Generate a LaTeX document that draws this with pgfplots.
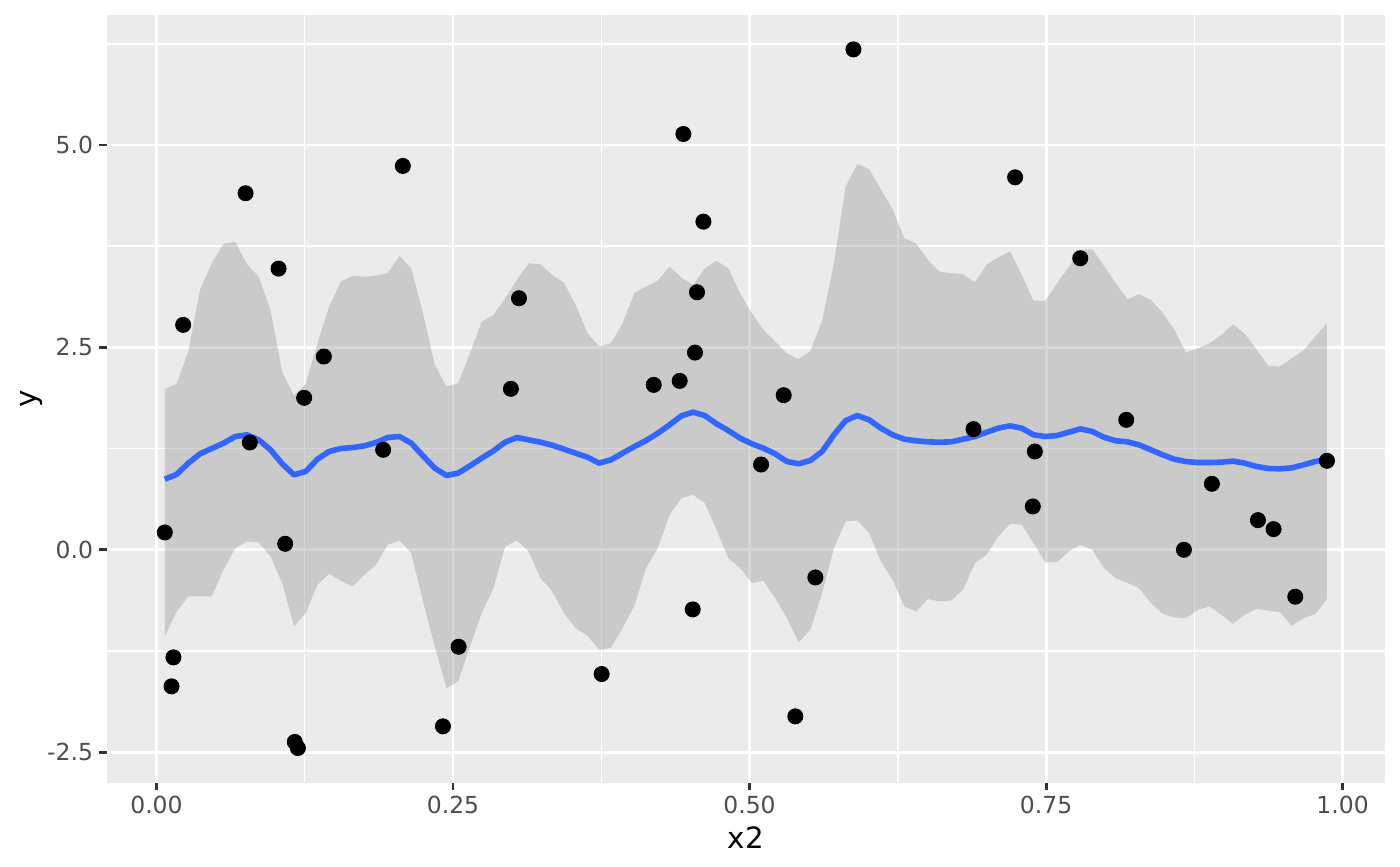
\documentclass[border=0pt]{standalone}
\usepackage{pgfplots}
\pgfplotsset{compat=1.18}
\usepackage{pgfplotstable}
\usepackage{fontspec}
\setmainfont{DejaVu Sans}
\definecolor{panelbg}{HTML}{EBEBEB}
\definecolor{tickgrey}{HTML}{4D4D4D}
\definecolor{tickmark}{HTML}{333333}
\definecolor{smoothblue}{HTML}{3366FF}
\definecolor{bandgrey}{HTML}{999999}

% fitted curve
\pgfplotstableread{
x fit
0.0070 0.872
0.0169 0.930
0.0268 1.070
0.0367 1.185
0.0466 1.251
0.0565 1.317
0.0664 1.399
0.0763 1.420
0.0862 1.358
0.0961 1.235
0.1060 1.062
0.1159 0.926
0.1258 0.967
0.1357 1.119
0.1456 1.214
0.1555 1.251
0.1654 1.263
0.1752 1.284
0.1851 1.325
0.1950 1.387
0.2049 1.399
0.2148 1.317
0.2247 1.160
0.2346 1.008
0.2445 0.918
0.2544 0.947
0.2643 1.037
0.2742 1.132
0.2841 1.222
0.2940 1.329
0.3039 1.387
0.3138 1.358
0.3237 1.329
0.3336 1.292
0.3435 1.243
0.3534 1.193
0.3633 1.144
0.3732 1.070
0.3831 1.111
0.3930 1.193
0.4029 1.275
0.4128 1.350
0.4227 1.440
0.4326 1.543
0.4425 1.654
0.4524 1.700
0.4623 1.658
0.4722 1.556
0.4821 1.473
0.4920 1.379
0.5019 1.309
0.5117 1.255
0.5216 1.185
0.5315 1.090
0.5414 1.062
0.5513 1.103
0.5612 1.214
0.5711 1.420
0.5810 1.596
0.5909 1.658
0.6008 1.605
0.6107 1.502
0.6206 1.420
0.6305 1.366
0.6404 1.346
0.6503 1.333
0.6602 1.329
0.6701 1.333
0.6800 1.366
0.6899 1.399
0.6998 1.452
0.7097 1.502
0.7196 1.531
0.7295 1.502
0.7394 1.420
0.7493 1.399
0.7592 1.411
0.7691 1.452
0.7790 1.494
0.7889 1.461
0.7988 1.390
0.8087 1.346
0.8186 1.333
0.8284 1.296
0.8383 1.235
0.8482 1.173
0.8581 1.119
0.8680 1.090
0.8779 1.078
0.8878 1.078
0.8977 1.082
0.9076 1.095
0.9175 1.070
0.9274 1.029
0.9373 1.004
0.9472 1.000
0.9571 1.012
0.9670 1.049
0.9769 1.090
0.9868 1.120
}\fittab

% confidence band: upper edge left to right, then lower edge right to left
\pgfplotstableread{
x y
0.0070 1.984
0.0169 2.049
0.0268 2.449
0.0367 3.210
0.0466 3.539
0.0565 3.778
0.0664 3.806
0.0763 3.527
0.0862 3.374
0.0961 2.963
0.1060 2.194
0.1159 1.905
0.1258 2.049
0.1357 2.552
0.1456 3.004
0.1555 3.312
0.1654 3.386
0.1752 3.374
0.1851 3.386
0.1950 3.420
0.2049 3.630
0.2148 3.473
0.2247 2.922
0.2346 2.284
0.2445 2.016
0.2544 2.058
0.2643 2.428
0.2742 2.819
0.2841 2.901
0.2940 3.107
0.3039 3.333
0.3138 3.539
0.3237 3.527
0.3336 3.395
0.3435 3.300
0.3534 3.025
0.3633 2.675
0.3732 2.510
0.3831 2.552
0.3930 2.798
0.4029 3.173
0.4128 3.251
0.4227 3.325
0.4326 3.498
0.4425 3.362
0.4524 3.272
0.4623 3.477
0.4722 3.568
0.4821 3.477
0.4920 3.169
0.5019 2.922
0.5117 2.716
0.5216 2.572
0.5315 2.428
0.5414 2.354
0.5513 2.457
0.5612 2.827
0.5711 3.539
0.5810 4.485
0.5909 4.765
0.6008 4.700
0.6107 4.453
0.6206 4.206
0.6305 3.848
0.6404 3.786
0.6503 3.580
0.6602 3.436
0.6701 3.416
0.6800 3.403
0.6899 3.304
0.6998 3.519
0.7097 3.613
0.7196 3.683
0.7295 3.395
0.7394 3.078
0.7493 3.074
0.7592 3.292
0.7691 3.490
0.7790 3.704
0.7889 3.712
0.7988 3.508
0.8087 3.292
0.8186 3.095
0.8284 3.156
0.8383 3.086
0.8482 2.930
0.8581 2.716
0.8680 2.436
0.8779 2.490
0.8878 2.551
0.8977 2.654
0.9076 2.786
0.9175 2.667
0.9274 2.477
0.9373 2.272
0.9472 2.263
0.9571 2.366
0.9670 2.461
0.9769 2.634
0.9868 2.799
0.9868 -0.609
0.9769 -0.794
0.9670 -0.844
0.9571 -0.938
0.9472 -0.769
0.9373 -0.753
0.9274 -0.732
0.9175 -0.802
0.9076 -0.914
0.8977 -0.802
0.8878 -0.700
0.8779 -0.741
0.8680 -0.844
0.8581 -0.835
0.8482 -0.790
0.8383 -0.658
0.8284 -0.473
0.8186 -0.411
0.8087 -0.350
0.7988 -0.226
0.7889 0.000
0.7790 0.062
0.7691 -0.021
0.7592 -0.152
0.7493 -0.156
0.7394 0.082
0.7295 0.309
0.7196 0.321
0.7097 0.165
0.6998 -0.062
0.6899 -0.165
0.6800 -0.494
0.6701 -0.626
0.6602 -0.638
0.6503 -0.609
0.6404 -0.762
0.6305 -0.700
0.6206 -0.370
0.6107 -0.144
0.6008 0.206
0.5909 0.362
0.5810 0.350
0.5711 0.021
0.5612 -0.535
0.5513 -0.988
0.5414 -1.144
0.5315 -0.843
0.5216 -0.597
0.5117 -0.383
0.5019 -0.411
0.4920 -0.226
0.4821 -0.103
0.4722 0.247
0.4623 0.576
0.4524 0.679
0.4425 0.638
0.4326 0.432
0.4227 0.021
0.4128 -0.226
0.4029 -0.690
0.3930 -0.967
0.3831 -1.214
0.3732 -1.235
0.3633 -1.062
0.3534 -0.967
0.3435 -0.782
0.3336 -0.514
0.3237 -0.350
0.3138 -0.021
0.3039 0.115
0.2940 0.041
0.2841 -0.473
0.2742 -0.782
0.2643 -1.193
0.2544 -1.626
0.2445 -1.708
0.2346 -1.193
0.2247 -0.638
0.2148 -0.041
0.2049 0.113
0.1950 0.062
0.1851 -0.185
0.1752 -0.309
0.1654 -0.453
0.1555 -0.383
0.1456 -0.296
0.1357 -0.432
0.1258 -0.782
0.1159 -0.947
0.1060 -0.412
0.0961 -0.082
0.0862 0.091
0.0763 0.103
0.0664 0.021
0.0565 -0.247
0.0466 -0.576
0.0367 -0.576
0.0268 -0.576
0.0169 -0.770
0.0070 -1.070
}\bandtab

\begin{document}
\begin{tikzpicture}
\begin{axis}[
  at={(40pt,31.25pt)}, anchor=south west,
  scale only axis, width=479.4pt, height=288pt,
  xmin=-0.0420, xmax=1.0358, ymin=-2.877, ymax=6.61,
  axis background/.style={fill=panelbg},
  axis line style={draw=none},
  xtick={0,0.25,0.5,0.75,1}, xticklabels={0.00,0.25,0.50,0.75,1.00},
  ytick={-2.5,0,2.5,5}, yticklabels={-2.5,0.0,2.5,5.0},
  minor xtick={0.125,0.375,0.625,0.875},
  minor ytick={-1.25,1.25,3.75,6.25},
  grid=both,
  major grid style={white, line width=1.07pt},
  minor grid style={white, line width=0.53pt},
  tick align=outside, tick pos=left,
  major tick length=2.75pt, minor tick length=0pt,
  major tick style={tickmark, line width=1.07pt},
  /pgf/number format/assume math mode=true,
  tick label style={font=\fontsize{8.8}{10}\selectfont, text=tickgrey, inner sep=0pt},
  xticklabel shift=2.2pt, yticklabel shift=2.2pt,
  xlabel={x2}, ylabel={y},
  label style={font=\fontsize{11}{13}\selectfont, text=black, inner sep=0pt},
  xlabel style={at={([yshift=-24.6pt]axis description cs:0.5,0)}, anchor=base},
  ylabel style={at={([xshift=-26.5pt]axis description cs:0,0.5)}, rotate=0, anchor=base},
]
\addplot[only marks, mark=*, mark size=2.8pt, mark options={draw=none, fill=black}] coordinates {
(0.0070,0.214) (0.0143,-1.329) (0.0127,-1.687) (0.0225,2.778) (0.0751,4.404)
(0.0787,1.325) (0.1029,3.473) (0.1085,0.074) (0.1166,-2.374) (0.1192,-2.449)
(0.1245,1.877) (0.1411,2.387) (0.1911,1.235) (0.2077,4.741) (0.2415,-2.181)
(0.2547,-1.198) (0.2988,1.988) (0.3056,3.107) (0.3753,-1.535) (0.4192,2.037)
(0.4442,5.136) (0.4411,2.086) (0.4521,-0.737) (0.4540,2.436) (0.4557,3.181)
(0.4611,4.053) (0.5097,1.053) (0.5288,1.909) (0.5386,-2.058) (0.5555,-0.342)
(0.5876,6.181) (0.6888,1.490) (0.7239,4.601) (0.7388,0.535) (0.7405,1.214)
(0.7788,3.601) (0.8176,1.605) (0.8662,0.000) (0.8898,0.815) (0.9286,0.366)
(0.9418,0.255) (0.9601,-0.580) (0.9868,1.099)
};
\addplot[fill=bandgrey, fill opacity=0.4, draw=none] table[x=x, y=y]{\bandtab} -- cycle;
\addplot[smoothblue, line width=2.1pt, line join=round, line cap=butt] table[x=x, y=fit]{\fittab};
\end{axis}
\pgfresetboundingbox
\useasboundingbox (0,0) rectangle (525pt,324.75pt);
\end{tikzpicture}
\end{document}
